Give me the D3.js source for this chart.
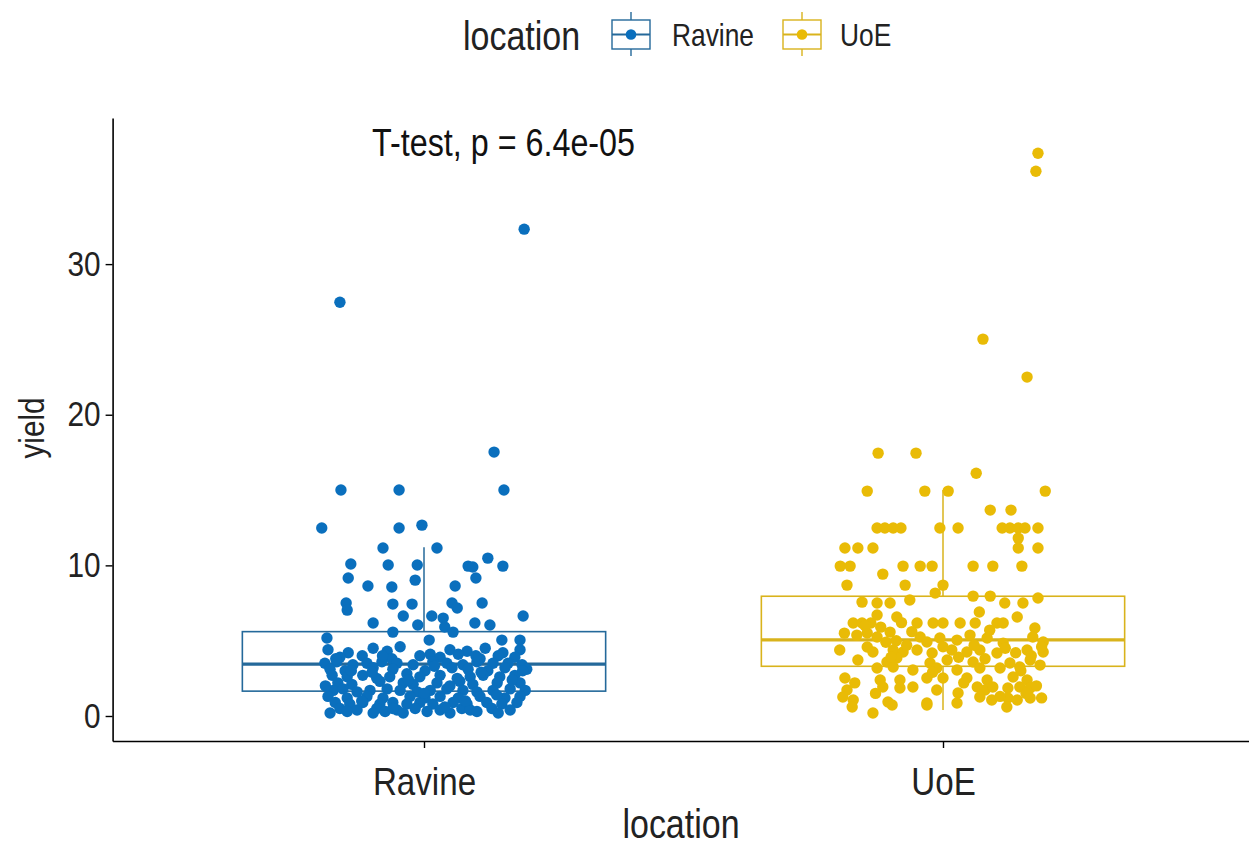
<!DOCTYPE html>
<html><head><meta charset="utf-8">
<script src="https://cdn.jsdelivr.net/npm/d3@7"></script>
<style>body{margin:0;background:#fff} text{font-family:"Liberation Sans",Arial,sans-serif}</style>
</head><body><svg id="c" width="1249" height="846"></svg>
<script>
// ---------- data ----------
const categories = ["Ravine", "UoE"];
const yTicks = [0, 10, 20, 30];
const pointColors = ["#0A6FBD", "#E9BB06"];
const boxColors = ["#24699A", "#D9B31C"];
const boxLower = [0.2, 0.4];
const boxQ1 = [1.65, 3.3];
const boxMedian = [3.45, 5.05];
const boxQ3 = [5.6, 7.95];
const boxUpper = [11.2, 15.0];
const annotation = "T-test, p = 6.4e-05";

const ravineJitter = [
  0.193,-0.162,0.135,-0.160,-0.048,0.154,-0.197,-0.048,-0.004,-0.079,0.025,-0.141,-0.069,-0.013,0.085,0.094,0.123,0.152,-0.146,-0.017,0.100,-0.108,-0.062,0.060,-0.150,-0.148,-0.060,-0.023,0.054,0.064,0.112,-0.098,-0.040,-0.012,0.015,0.037,0.040,0.056,0.098,0.127,0.191,-0.187,-0.060,0.010,0.150,0.185,
  -0.185,-0.146,-0.098,-0.071,-0.046,0.012,0.050,0.083,0.118,0.152,0.185,
  -0.162,-0.119,-0.062,-0.008,0.031,0.066,0.108,0.143,0.175,
  -0.191,-0.168,-0.137,-0.110,-0.081,-0.052,-0.021,0.017,0.044,0.075,0.102,0.133,0.162,0.189,
  -0.181,-0.152,-0.098,-0.060,0.002,0.054,0.085,0.123,0.156,0.198,
  -0.177,-0.148,-0.118,-0.091,-0.066,-0.033,-0.008,0.031,0.064,0.089,0.114,0.146,0.175,
  -0.166,-0.139,-0.085,-0.040,-0.021,0.025,0.069,0.094,0.141,0.185,
  -0.175,-0.156,-0.129,-0.104,-0.071,-0.046,-0.013,0.012,0.044,0.075,0.102,0.133,0.166,0.195,
  -0.185,-0.148,-0.110,-0.079,-0.027,0.002,0.031,0.066,0.108,0.156,0.185,
  -0.171,-0.143,-0.118,-0.085,-0.060,-0.033,-0.008,0.017,0.056,0.083,0.121,0.150,0.179,
  -0.162,-0.129,-0.091,-0.052,-0.017,0.031,0.073,0.089,0.131,0.166,
  -0.181,-0.148,-0.098,-0.075,-0.040,0.006,0.050,0.102,0.143,
  -0.190,-0.170,-0.120,-0.100,-0.030,0.000,0.020,0.050,0.080,0.110,0.140,0.170,0.190,-0.060,0.040,-0.140,0.100,-0.080
];
const ravineYield = [
  32.32,27.47,17.52,15.0,15.0,15.0,12.48,12.48,12.67,11.15,11.15,10.09,10.02,10.02,9.95,9.89,10.48,9.95,9.16,9.02,9.16,8.63,8.56,8.63,7.5,7.03,7.43,7.43,7.5,7.17,7.5,6.17,6.64,6.04,6.64,6.5,5.91,5.57,6.17,6.04,6.64,5.18,5.57,5.04,5.04,5.04,
  4.4,4.2,4.5,4.3,4.6,4.1,4.4,4.3,4.5,4.2,4.4,
  3.9,4.0,3.8,4.0,3.9,4.1,3.8,4.0,3.9,
  3.5,3.6,3.4,3.5,3.6,3.5,3.4,3.6,3.5,3.4,3.6,3.5,3.5,3.4,
  3.1,3.0,3.2,3.1,3.0,3.2,3.1,3.0,3.2,3.1,
  2.7,2.6,2.7,2.5,2.6,2.8,2.6,2.7,2.5,2.6,2.7,2.6,2.7,
  2.2,2.1,2.3,2.2,2.1,2.2,2.3,2.1,2.2,2.2,
  1.7,1.8,1.6,1.7,1.8,1.7,1.6,1.7,1.8,1.7,1.6,1.7,1.8,1.7,
  1.3,1.2,1.3,1.2,1.3,1.2,1.3,1.2,1.3,1.2,1.3,
  0.9,0.8,0.9,0.8,0.9,0.8,0.9,0.8,0.9,0.8,0.9,0.8,0.9,
  0.5,0.4,0.5,0.4,0.5,0.4,0.5,0.4,0.5,0.4,
  0.2,0.3,0.2,0.3,0.2,0.3,0.2,0.3,0.2,
  2.0,3.8,1.0,2.9,2.4,1.5,3.3,2.0,1.0,2.9,1.4,2.4,3.0,0.5,0.6,3.0,4.0,4.0
];

const uoeJitter = [
  0.183,0.179,0.077,0.162,-0.125,-0.052,0.064,-0.146,-0.035,0.010,0.197,0.091,0.131,
  -0.127,-0.112,-0.096,-0.081,-0.006,0.029,0.114,0.129,0.145,0.158,0.183,
  0.145,
  -0.189,-0.164,-0.135,0.183,0.145,
  -0.198,-0.179,-0.077,-0.044,-0.021,0.058,0.096,0.152,
  -0.116,-0.185,-0.073,0.000,-0.015,
  -0.156,-0.127,-0.102,-0.064,0.058,0.091,0.119,0.154,0.183,
  -0.127,-0.089,0.143,
  -0.173,-0.156,-0.139,-0.050,-0.019,0.000,0.033,0.062,0.104,0.116,0.177,
  -0.166,-0.146,-0.127,-0.102,-0.044,-0.031,-0.006,0.027,0.052,0.085,0.116,0.173,0.193,
  -0.199,-0.146,-0.135,-0.096,-0.077,-0.050,-0.021,0.017,0.046,0.071,0.104,0.162,0.193,
  -0.164,-0.108,-0.089,-0.025,0.008,0.058,0.081,0.129,0.168,
  -0.127,-0.096,-0.058,-0.012,0.027,0.071,0.110,0.148,0.187,
  -0.189,-0.121,-0.083,-0.031,0.000,0.046,0.085,0.135,0.162,
  -0.185,-0.116,-0.083,-0.058,-0.012,0.029,0.066,0.081,0.096,0.125,0.148,0.168,
  -0.193,-0.173,-0.106,-0.031,0.071,0.094,0.125,0.143,0.168,
  -0.175,-0.135,-0.098,-0.031,0.027,0.123,
  -0.150,-0.120,-0.090,-0.070,-0.100,0.000,0.030,0.060,0.120,0.150,0.180,0.170,0.190,-0.190,
  -0.170,-0.130,-0.110,-0.060,-0.020,0.040,0.090,0.110,0.140,0.160,0.190,-0.080,0.070
];
const uoeYield = [
  37.36,36.16,25.02,22.5,17.45,17.45,16.12,14.93,14.93,14.93,14.93,13.67,13.67,
  12.48,12.48,12.48,12.48,12.48,12.48,12.48,12.48,12.48,12.48,12.48,
  11.81,
  11.15,11.15,11.15,11.15,11.15,
  9.95,9.95,9.95,9.95,9.95,9.95,9.95,9.95,
  9.42,8.69,8.69,8.69,8.16,
  7.56,7.5,7.5,7.7,7.96,7.96,7.5,7.5,7.83,
  6.7,6.57,6.57,
  6.17,6.17,6.17,6.17,6.17,6.17,6.17,6.17,6.17,6.17,5.84,
  5.37,5.51,5.24,5.57,5.24,4.91,5.18,5.04,5.37,5.18,4.84,5.24,4.91,
  4.38,4.58,4.25,4.38,4.25,4.38,4.18,4.38,4.25,4.38,4.18,4.38,4.25,
  3.72,3.58,3.85,3.52,3.72,3.58,3.8,3.52,3.72,
  3.19,3.25,3.05,3.19,3.05,3.19,3.19,3.25,3.38,
  2.52,2.39,2.39,2.52,2.52,2.52,2.39,2.59,2.39,
  1.73,1.92,1.86,1.92,1.73,1.53,1.92,1.73,1.92,1.86,1.92,1.86,
  1.26,1.06,0.93,0.86,1.26,1.06,1.19,1.06,1.19,
  0.6,0.2,0.73,0.73,0.86,0.6,
  6.0,5.9,5.0,4.7,3.9,4.6,3.9,4.7,4.5,3.0,2.0,4.0,4.6,5.5,
  2.2,1.5,4.9,5.6,2.9,2.2,5.7,1.3,4.2,1.5,1.2,6.2,6.9
];

// ---------- chart ----------
const svg = d3.select("#c");
const x = d3.scaleLinear().domain([0.4, 2.6]).range([112.6, 1254.4]);
const y = d3.scaleLinear().domain([-1.66, 39.7]).range([741, 118]);
const boxWidth = 0.7;
const SX = 0.85; // condensed text look of the reference

function label(sel, tx, ty, size, txt, anchor, rot) {
  const g = sel.append("g").attr("transform", `translate(${tx},${ty})` + (rot ? ` rotate(${rot})` : "") + ` scale(${SX},1)`);
  return g.append("text").attr("text-anchor", anchor || "start").style("font-size", size + "px").attr("fill", "#222").text(txt);
}

// boxes
categories.forEach((c, i) => {
  const cx = i + 1;
  const g = svg.append("g").attr("stroke", boxColors[i]).attr("fill", "none");
  g.append("line").attr("x1", x(cx)).attr("x2", x(cx)).attr("y1", y(boxQ3[i])).attr("y2", y(boxUpper[i])).attr("stroke-width", 1.5);
  g.append("line").attr("x1", x(cx)).attr("x2", x(cx)).attr("y1", y(boxQ1[i])).attr("y2", y(boxLower[i])).attr("stroke-width", 1.5);
  g.append("rect").attr("x", x(cx - boxWidth / 2)).attr("width", x(cx + boxWidth / 2) - x(cx - boxWidth / 2))
    .attr("y", y(boxQ3[i])).attr("height", y(boxQ1[i]) - y(boxQ3[i])).attr("fill", "#fff").attr("stroke-width", 1.6);
  g.append("line").attr("x1", x(cx - boxWidth / 2)).attr("x2", x(cx + boxWidth / 2))
    .attr("y1", y(boxMedian[i])).attr("y2", y(boxMedian[i])).attr("stroke-width", 3.2);
});

// points
const groups = [
  { jit: ravineJitter, val: ravineYield },
  { jit: uoeJitter, val: uoeYield }
];
groups.forEach((g, i) => {
  svg.append("g").attr("fill", pointColors[i]).selectAll("circle")
    .data(g.val.map((v, k) => [i + 1 + g.jit[k], v]))
    .join("circle")
    .attr("cx", d => x(d[0])).attr("cy", d => y(d[1])).attr("r", 5.7);
});

// axes
const yAxis = svg.append("g").attr("transform", `translate(${x(0.4)},0)`)
  .call(d3.axisLeft(y).tickValues(yTicks).tickSize(7).tickSizeOuter(0).tickPadding(5));
const xAxis = svg.append("g").attr("transform", `translate(0,${y(-1.66)})`)
  .call(d3.axisBottom(x).tickValues([1, 2]).tickFormat(d => categories[d - 1]).tickSize(7).tickSizeOuter(0).tickPadding(19));
[yAxis, xAxis].forEach(a => {
  a.select(".domain").attr("stroke", "#000").attr("stroke-width", 1.6);
  a.selectAll(".tick line").attr("stroke", "#000").attr("stroke-width", 1.4);
});
yAxis.selectAll("text").attr("fill", "#222").style("font-size", "35px").attr("x", -12 / SX).attr("transform", `scale(${SX},1)`);
xAxis.selectAll("text").attr("fill", "#222").style("font-size", "39px").attr("transform", `scale(${SX},1)`);

// axis titles
label(svg, 681, 838, 40, "location", "middle");
label(svg, 44, 428, 35, "yield", "middle", -90);

// annotation
label(svg, x(0.9), y(37.2), 38, annotation, "start").attr("fill", "#111");

// legend
const leg = svg.append("g");
label(leg, 463, 50, 40, "location", "start");
const keyX = [612, 783], labX = [672, 840];
categories.forEach((c, i) => {
  const kx = keyX[i], kw = 38, cxk = kx + kw / 2;
  const g = leg.append("g").attr("stroke", boxColors[i]).attr("fill", "none").attr("stroke-width", 1.4);
  g.append("line").attr("x1", cxk).attr("x2", cxk).attr("y1", 12).attr("y2", 56);
  g.append("rect").attr("x", kx).attr("y", 20).attr("width", kw).attr("height", 29).attr("fill", "#fff");
  g.append("line").attr("x1", kx).attr("x2", kx + kw).attr("y1", 34.5).attr("y2", 34.5).attr("stroke-width", 2);
  leg.append("circle").attr("cx", cxk).attr("cy", 34.5).attr("r", 5.3).attr("fill", pointColors[i]);
  label(leg, labX[i], 35, 31, c, "start").attr("dy", "0.35em");
});
</script></body></html>
